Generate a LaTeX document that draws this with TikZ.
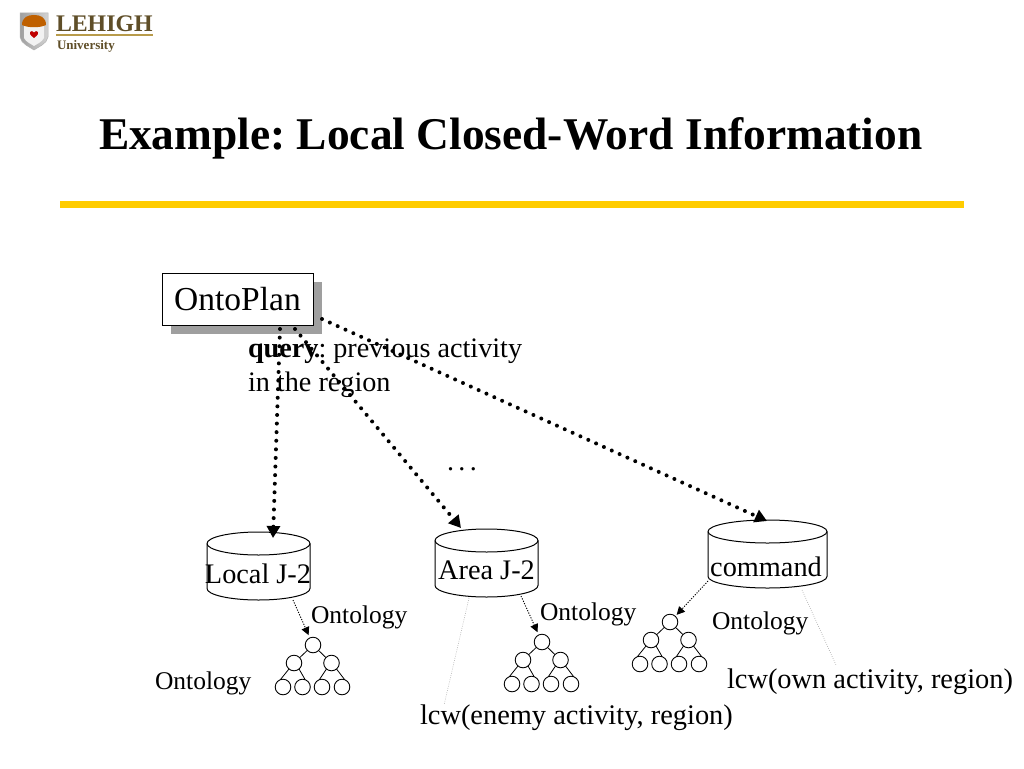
\documentclass[tikz,border=0pt]{standalone}
\usepackage{fontspec}
\setmainfont{Liberation Serif}
\usetikzlibrary{arrows.meta}
\frenchspacing
\newcommand{\fs}[1]{\fontsize{#1}{#1}\selectfont}
\definecolor{goldrule}{HTML}{FFCC00}
\definecolor{logobrown}{HTML}{5F4E28}
\definecolor{logogold}{HTML}{B89B4A}
\tikzset{
 x=1pt,y=-1pt,
 lbl/.style={inner sep=0,outer sep=0,text=black,anchor=base west},
 dbbox/.style={inner sep=0,outer sep=0,minimum height=68pt},
 dbline/.style={draw=black,line width=1pt,fill=white},
 bigdots/.style={line width=4pt,line cap=round,dash pattern=on 0pt off 8.6pt,-{Triangle[width=13pt,length=12pt,line cap=butt,sep=0pt]}},
 smalldots/.style={line width=.9pt,dash pattern=on 1.2pt off 1.4pt,shorten >=3pt,-{Triangle[width=8pt,length=8pt,line cap=butt]}},
 graydots/.style={draw=gray!60,line width=.6pt,dash pattern=on .8pt off 1.4pt},
 tn/.style={circle,draw=black,line width=.9pt,fill=white,minimum size=15.6pt,inner sep=0,outer sep=0},
 onttree/.pic={
  \node[tn] (-r) at (0,0) {};
  \node[tn] (-a) at (-19,18) {};
  \node[tn] (-b) at (18.5,18) {};
  \node[tn] (-c) at (-30,42) {};
  \node[tn] (-d) at (-10.5,42) {};
  \node[tn] (-e) at (9,42) {};
  \node[tn] (-f) at (29,42) {};
  \draw[line width=.8pt] (-r)--(-a) (-r)--(-b) (-a.-130)--(-c.110) (-a.-50)--(-d.70) (-b.-130)--(-e.110) (-b.-50)--(-f.70);
 },
}
% name, centre x, centre y, width
\newcommand{\dbcylinder}[4]{%
 \node[dbbox,minimum width=#4pt] (#1) at (#2,#3) {};
 \pgfmathsetmacro{\rxx}{#4/2}
 \path[dbline] ([yshift=-11.5pt]#1.north west) arc[start angle=180,end angle=0,x radius=\rxx pt,y radius=11.5pt]
   -- ([yshift=11.5pt]#1.south east) arc[start angle=0,end angle=-180,x radius=\rxx pt,y radius=11.5pt] -- cycle;
 \draw[line width=1pt] ([yshift=-11.5pt]#1.north west) arc[start angle=180,end angle=360,x radius=\rxx pt,y radius=11.5pt];
}
\begin{document}
\begin{tikzpicture}
\useasboundingbox (0,0) rectangle (1024,768);
\fill[white] (0,0) rectangle (1024,768);

% logo
\path[left color=gray!75,right color=gray!35,draw=gray!60,line width=.5pt] (20,13) -- (48,13) -- (48,37) .. controls (47,44) and (38,47) .. (34,50) .. controls (30,47) and (21,44) .. (20,37) -- cycle;
\path[fill=gray!10] (24,26) -- (44,26) -- (44,38) .. controls (42,42) and (37,44) .. (34,46) .. controls (31,44) and (26,42) .. (24,38) -- cycle;
\path[fill=orange!75!black] (22,25) .. controls (22,17) and (28,15) .. (34,15) .. controls (40,15) and (46,17) .. (46,25) .. controls (40,28) and (28,28) .. (22,25) -- cycle;
\path[fill=red!75!black] (34,38) .. controls (30,35) and (29,33) .. (30,32) .. controls (31,30.5) and (33,31) .. (34,32.5) .. controls (35,31) and (37,30.5) .. (38,32) .. controls (39,33) and (38,35) .. (34,38) -- cycle;
\node[lbl,text=logobrown] (logo) at (56,31.5) {\fs{23.8}\bfseries LEHIGH};
\fill[logogold] (56,34) rectangle (153,36.5);
\node[lbl,text=logobrown] (logouni) at (57,49) {\fs{13}\bfseries University};

% title
\node[lbl] (title) at (99,149) {\fs{45.4}\bfseries Example: Local Closed-Word Information};
\fill[goldrule] (60,201) rectangle (964,208);

% source
\fill[gray!75] (171,282) rectangle (322,334);
\node[draw=black,line width=1pt,fill=white,minimum width=151pt,minimum height=52pt,inner sep=0,outer sep=0] (onto) at (237.5,299) {\fs{33.5}OntoPlan};

% query text
\node[lbl] (q1) at (248,357) {\fs{28.2}\textbf{query}: previous activity};
\node[lbl] (q2) at (248,391) {\fs{28.2}in the region};
\node[lbl] (dots) at (447,470) {\fs{28}.\kern4.5pt.\kern4.5pt.};

% cylinders
\dbcylinder{local}{258.5}{566}{103}
\dbcylinder{area}{486.5}{563}{103}
\dbcylinder{cmd}{767.5}{554}{119}
\node[lbl,anchor=base] (locall) at (258,583) {\fs{28.3}Local J-2};
\node[lbl,anchor=base] (areal) at (486.5,579) {\fs{28.3}Area J-2};
\node[lbl,anchor=base] (cmdl) at (766,576) {\fs{28.3}command};

% trees
\pic (t1) at (313,645) {onttree};
\pic (t2) at (542,642) {onttree};
\pic (t3) at (670,622) {onttree};

% ontology labels
\node[lbl] (o1) at (311,623) {\fs{25.5}Ontology};
\node[lbl] (o2) at (155,689) {\fs{25.5}Ontology};
\node[lbl] (o3) at (540,620) {\fs{25.5}Ontology};
\node[lbl] (o4) at (712,629) {\fs{25.5}Ontology};
\node[lbl] (l1) at (420,724) {\fs{28.4}lcw(enemy activity, region)};
\node[lbl] (l2) at (727,688) {\fs{28.4}lcw(own activity, region)};

% connectors
\coordinate (s1) at (280,329);
\coordinate (s2) at (295,329);
\coordinate (s3) at (322,319);
\coordinate (e1) at (273,538);
\coordinate (e2) at (461,528);
\coordinate (e3) at (767,521);
\draw[bigdots] (s1) -- (e1);
\draw[bigdots] (s2) -- (e2);
\draw[bigdots] (s3) -- (e3);

\coordinate (a1) at (293,600);
\coordinate (a2) at (521,596);
\coordinate (a3) at (708,581);
\draw[smalldots] (a1) -- (t1-r);
\draw[smalldots] (a2) -- (t2-r);
\draw[smalldots,shorten >=2pt] (a3) -- (t3-r);

\coordinate (g1) at (469,598);
\coordinate (g2) at (444,705);
\coordinate (g3) at (802,590);
\coordinate (g4) at (836,665);
\draw[graydots] (g1) -- (g2);
\draw[graydots] (g3) -- (g4);
\end{tikzpicture}
\end{document}
